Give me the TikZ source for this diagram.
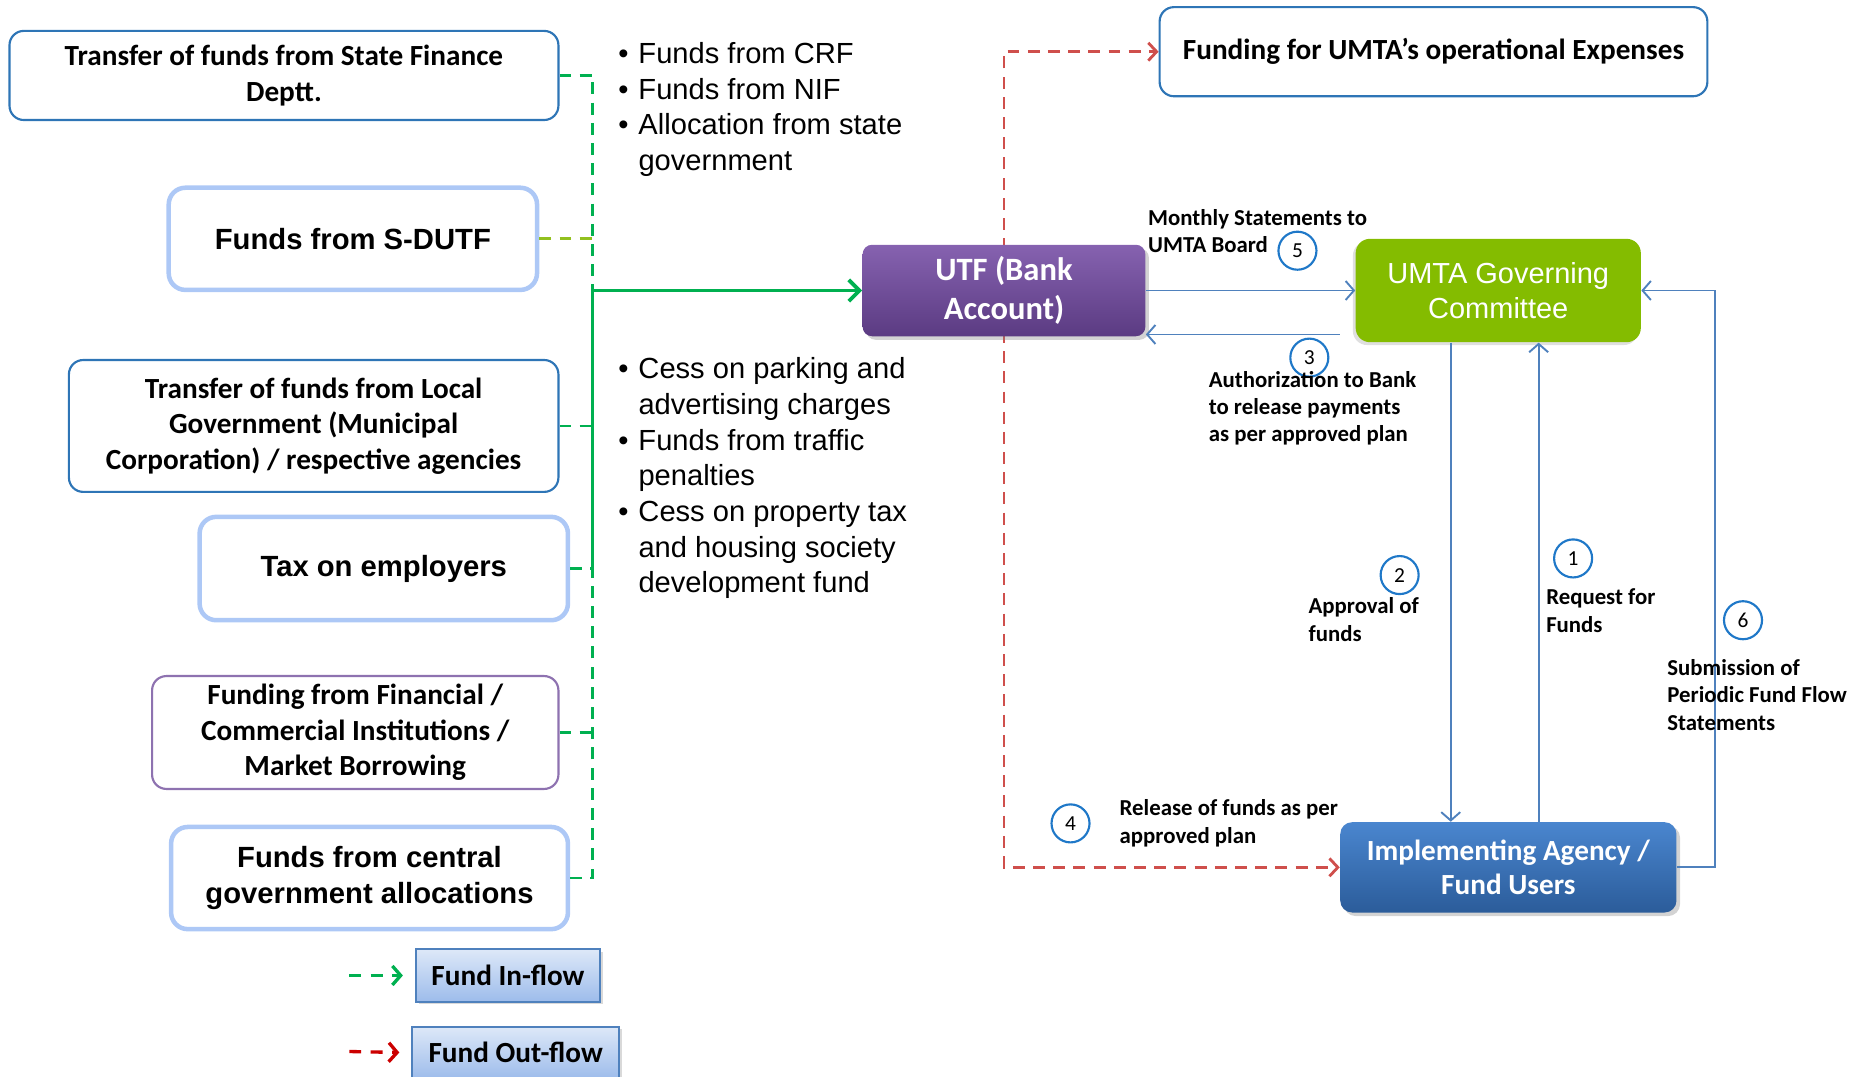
\documentclass[tikz,border=0pt]{standalone}
\usepackage{fontspec}
\setmainfont{Carlito}
\newfontfamily\arialf{Liberation Sans}
\usetikzlibrary{arrows.meta,shadows,backgrounds,calc}
\definecolor{bordblue}{HTML}{2E75B6}
\definecolor{lightbord}{HTML}{ADC8F6}
\definecolor{purpbord}{HTML}{8E72B0}
\definecolor{ingreen}{HTML}{00B050}
\definecolor{ygreen}{HTML}{92C01F}
\definecolor{outred}{HTML}{CF4F4C}
\definecolor{lineblue}{HTML}{4F81BD}
\definecolor{umtagreen}{HTML}{84BC00}
\definecolor{circblue}{HTML}{1F78C8}
\definecolor{utftop}{HTML}{8662B0}
\definecolor{utfbot}{HTML}{5B3B82}
\definecolor{impltop}{HTML}{4A86CF}
\definecolor{implbot}{HTML}{2B5C9A}
\definecolor{legtop}{HTML}{DDE8F8}
\definecolor{legbot}{HTML}{9DBCEB}
\begin{document}
\begin{tikzpicture}[x=0.5pt,y=-0.5pt,
  thinbox/.style={draw=bordblue, line width=0.9pt, rounded corners=6pt, fill=white, align=center,
    font=\bfseries\fontsize{12.3}{15}\selectfont, inner sep=0pt},
  thickbox/.style={draw=lightbord, line width=1.9pt, rounded corners=7pt, fill=white, align=center,
    font=\arialf\bfseries\fontsize{12.3}{15}\selectfont, inner sep=0pt},
  utfbox/.style={rounded corners=4pt, top color=utftop, bottom color=utfbot, text=white, align=center,
    font=\bfseries\fontsize{13.7}{16.5}\selectfont, inner sep=0pt,
    drop shadow={opacity=0.35, shadow xshift=1.5pt, shadow yshift=-1.5pt}},
  umtabox/.style={rounded corners=6pt, fill=umtagreen, text=white, align=center,
    font=\arialf\fontsize{12.2}{15}\selectfont, inner sep=0pt,
    drop shadow={opacity=0.25, shadow xshift=-1.2pt, shadow yshift=-1.2pt}},
  implbox/.style={rounded corners=5pt, top color=impltop, bottom color=implbot, text=white, align=center,
    font=\bfseries\fontsize{12.3}{14.5}\selectfont, inner sep=0pt,
    drop shadow={opacity=0.35, shadow xshift=1.5pt, shadow yshift=-1.5pt}},
  legbox/.style={draw=lineblue, line width=0.9pt, top color=legtop, bottom color=legbot,
    font=\bfseries\fontsize{12.3}{15}\selectfont, inner sep=0pt,
    drop shadow={opacity=0.3, shadow xshift=1.2pt, shadow yshift=-1.2pt}},
  bullets/.style={font=\arialf\fontsize{12.25}{15}\selectfont, align=left, inner sep=0pt},
  lbl/.style={font=\bfseries\fontsize{9.6}{11.5}\selectfont, align=left, inner sep=0pt, anchor=west},
  circ/.style={circle, draw=circblue, line width=0.9pt, minimum size=16pt, inner sep=0pt,
    font=\fontsize{9}{9}\selectfont},
  gd/.style={draw=ingreen, line width=1.2pt, dash pattern=on 5pt off 3.5pt},
  gs/.style={draw=ingreen, line width=1.2pt},
  yd/.style={draw=ygreen, line width=1.2pt, dash pattern=on 5pt off 3.5pt},
  rd/.style={draw=outred, line width=1.2pt, dash pattern=on 5pt off 3.5pt,
    -{Straight Barb[length=3.5pt,width=7.5pt,line width=1.2pt]}},
  bl/.style={draw=lineblue, line width=0.8pt, -{Straight Barb[length=3.5pt,width=8pt]}}
]
\useasboundingbox (0,0) rectangle (1568,906);

% left source boxes
\node[thinbox, minimum width=231pt, minimum height=37.5pt] (b1) at (239,63.5)
  {Transfer of funds from State Finance\\Deptt.};
\node[thickbox, minimum width=155pt, minimum height=43pt] (b2) at (297,201) {Funds from S-DUTF};
\node[thinbox, minimum width=206pt, minimum height=55.5pt] (b3) at (264,358.5)
  {Transfer of funds from Local\\Government (Municipal\\Corporation) / respective agencies};
\node[thickbox, minimum width=155pt, minimum height=43.5pt] (b4) at (323,478.5) {Tax on employers};
\node[thinbox, draw=purpbord, minimum width=171pt, minimum height=47.5pt] (b5) at (299,616.5)
  {Funding from Financial /\\Commercial Institutions /\\Market Borrowing};
\node[thickbox, minimum width=167pt, minimum height=43pt] (b6) at (311,739)
  {Funds from central\\government allocations};

% legend
\node[legbox, minimum width=77.5pt, minimum height=22pt] (leg1) at (427.5,821) {Fund In-flow};
\node[legbox, minimum width=87pt, minimum height=22pt] (leg2) at (434,886) {Fund Out-flow};
\coordinate (l1s) at (294,821);
\coordinate (l2s) at (294,885);
\draw[gd, line width=1.4pt, dash pattern=on 5pt off 4pt, -{Straight Barb[length=3.5pt,width=8pt,line width=1.4pt]}, shorten >=5pt] (l1s) -- (leg1.west);
\draw[rd, draw=red!80!black, line width=1.4pt, dash pattern=on 5pt off 4pt, -{Straight Barb[length=3.5pt,width=8pt,line width=1.4pt]}, shorten >=5pt] (l2s) -- (leg2.west);

% bullet lists
\node[bullets, anchor=west] (list1) at (520,92)
  {\makebox[8.5pt][l]{•}Funds from CRF\\
   \makebox[8.5pt][l]{•}Funds from NIF\\
   \makebox[8.5pt][l]{•}Allocation from state\\
   \hspace*{8.5pt}government};
\node[bullets, anchor=west] (list2) at (520,402.5)
  {\makebox[8.5pt][l]{•}Cess on parking and\\
   \hspace*{8.5pt}advertising charges\\
   \makebox[8.5pt][l]{•}Funds from traffic\\
   \hspace*{8.5pt}penalties\\
   \makebox[8.5pt][l]{•}Cess on property tax\\
   \hspace*{8.5pt}and housing society\\
   \hspace*{8.5pt}development fund};

% central and right nodes
\node[utfbox, minimum width=119pt, minimum height=38.5pt] (utf) at (845,244.5) {UTF (Bank\\Account)};
\node[umtabox, minimum width=120pt, minimum height=43.5pt] (umta) at (1261,244.5) {UMTA Governing\\Committee};
\node[implbox, minimum width=141.5pt, minimum height=38pt] (impl) at (1269.5,730) {Implementing Agency /\\Fund Users};
\node[thinbox, minimum width=230.5pt, minimum height=37.5pt] (fund) at (1206.5,43.5)
  {Funding for UMTA’s operational Expenses};

% green in-flow connectors
\coordinate (trunk) at (499,244.5);
\draw[gd] (b1.east) -- (b1.east -| trunk) -- (trunk);
\draw[yd] (b2.east) -- (b2.east -| trunk);
\draw[gd] (b3.east) -- (b3.east -| trunk);
\draw[gd] (b4.east) -- (b4.east -| trunk);
\draw[gd] (b5.east) -- (b5.east -| trunk);
\draw[gd] (b6.east) -- (b6.east -| trunk) -- (b4.east -| trunk);
\draw[gs] (trunk) -- (b4.east -| trunk);
\draw[gs, line width=1.5pt, -{Straight Barb[length=4.5pt,width=9pt,line width=1.6pt]}] (trunk) -- (utf.west);

% red out-flow connectors (behind UTF)
\begin{scope}[on background layer]
\draw[rd] (utf.center) |- (fund.west);
\draw[rd] (utf.center) |- (impl.west);
\end{scope}

% blue connectors
\draw[bl] (utf.east) -- (umta.west);
\draw[bl] ([xshift=-6.5pt,yshift=-18.5pt]umta.west) -- ([yshift=-18.5pt]umta.west -| utf.east);
\draw[bl] ([xshift=-20pt]umta.south) -- ([xshift=-20pt]umta.south |- impl.north);
\draw[bl] ([xshift=17pt]umta.south |- impl.north) -- ([xshift=17pt]umta.south);
\draw[bl] (impl.east) -- ++(16pt,0) |- (umta.east);

% step circles
\node[circ] (c5) at (1092,211) {5};
\node[circ] (c3) at (1102,301) {3};
\node[circ] (c2) at (1178,484) {2};
\node[circ] (c1) at (1324,470) {1};
\node[circ] (c6) at (1467,522) {6};
\node[circ] (c4) at (901,693) {4};

% labels
\node[lbl] (t5) at (966,194.5) {Monthly Statements to\\UMTA Board};
\node[lbl] (t3) at (1017,343.5) {Authorization to Bank\\to release payments\\as per approved plan};
\node[lbl] (t2) at (1101,521.5) {Approval of\\funds};
\node[lbl] (t1) at (1301,514) {Request for\\Funds};
\node[lbl] (t6) at (1403,585) {Submission of\\Periodic Fund Flow\\Statements};
\node[lbl] (t4) at (942,693) {Release of funds as per\\approved plan};
\end{tikzpicture}
\end{document}
